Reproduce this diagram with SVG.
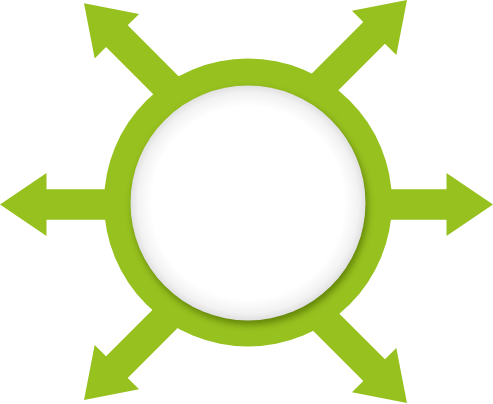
<svg xmlns="http://www.w3.org/2000/svg" width="493" height="404" viewBox="0 0 493 404">
  <style>
    .g { fill: #97c11f; }
  </style>
  <defs>
    <radialGradient id="face" cx="50%" cy="50%" r="50%">
      <stop offset="0" stop-color="#ffffff"/>
      <stop offset="0.82" stop-color="#ffffff"/>
      <stop offset="0.94" stop-color="#f2f2f2"/>
      <stop offset="1" stop-color="#e0e0e0"/>
    </radialGradient>
    <filter id="shadow" x="-20%" y="-20%" width="140%" height="140%">
      <feGaussianBlur stdDeviation="3.5"/>
    </filter>
  </defs>
  <g id="connectors">
    <polygon class="g" points="0,204.5 46.5,173.1 46.5,189.2 248,189.2 248,219.8 46.5,219.8 46.5,235.9"/>
    <polygon class="g" points="493,204.5 446.5,173.1 446.5,189.2 248,189.2 248,219.8 446.5,219.8 446.5,235.9"/>
    <polygon class="g" points="84,3.3 139.08,13.98 127.7,25.36 255.12,152.88 233.48,174.52 106.06,47 94.68,58.38"/>
    <polygon class="g" points="407,0 396.32,55.08 384.94,43.7 254.82,173.82 233.18,152.18 363.3,22.06 351.92,10.68"/>
    <polygon class="g" points="84,400 139.08,389.32 127.7,377.94 254.82,250.82 233.18,229.18 106.06,356.3 94.68,344.92"/>
    <polygon class="g" points="407,403 396.32,347.92 384.94,359.3 254.82,229.18 233.18,250.82 363.3,380.94 351.92,392.32"/>
  </g>
  <g id="hub">
    <circle class="g" cx="248" cy="202.5" r="144"/>
    <circle cx="250" cy="207" r="117.5" fill="#4f6d05" opacity="0.75" filter="url(#shadow)"/>
    <circle cx="248" cy="203" r="117.5" fill="url(#face)"/>
  </g>
</svg>
